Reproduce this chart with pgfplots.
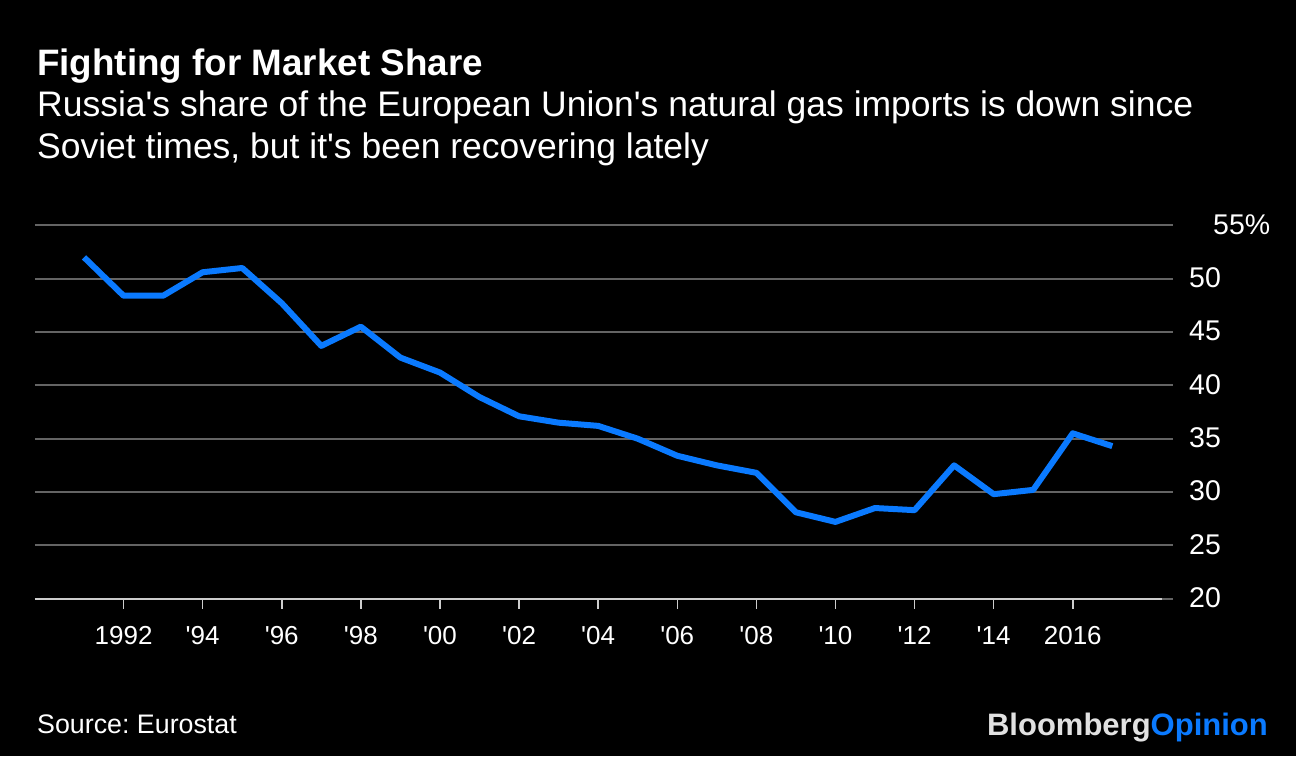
\documentclass[border=0pt]{standalone}
\usepackage{pgfplots}
\pgfplotsset{compat=1.18}
\usepackage{fontspec}
\setmainfont{Liberation Sans}
\frenchspacing
\definecolor{lineblue}{RGB}{10,122,255}
\definecolor{gridgray}{RGB}{100,100,100}
\definecolor{axisgray}{RGB}{205,205,205}
\definecolor{logogray}{RGB}{225,225,225}
\newcommand{\q}{\textquotesingle}
\begin{document}
\begin{tikzpicture}
\fill[black] (0pt,0pt) rectangle (1296pt,-756pt);
\node[anchor=base west,text=white,inner sep=0pt] at (37pt,-75pt) {\fontsize{36.8}{44}\selectfont\bfseries Fighting for Market Share};
\node[anchor=base west,text=white,inner sep=0pt] at (37pt,-116pt) {\fontsize{35.5}{40}\selectfont Russia\q s share of the European Union\q s natural gas imports is down since};
\node[anchor=base west,text=white,inner sep=0pt] at (37pt,-158pt) {\fontsize{35.5}{40}\selectfont Soviet times, but it\q s been recovering lately};
\node[anchor=base west,text=white,inner sep=0pt] at (37pt,-733pt) {\fontsize{26.8}{30}\selectfont Source: Eurostat};
\node[anchor=base east,inner sep=0pt] at (1268pt,-735pt) {\fontsize{31}{34}\selectfont\bfseries\textcolor{logogray}{Bloomberg}\textcolor{lineblue}{Opinion}};
\begin{axis}[
  at={(35pt,-598.7pt)}, anchor=south west,
  scale only axis, width=1138pt, height=373.4pt,
  xmin=1989.761, xmax=2018.535, ymin=20, ymax=55,
  axis line style={draw=none},
  ytick={20,25,30,35,40,45,50,55},
  yticklabels={20,25,30,35,40,45,50,\hspace*{24pt}55\%},
  yticklabel pos=right,
  ymajorgrids, grid style={gridgray, line width=2pt},
  y tick style={draw=none},
  yticklabel style={anchor=west, inner sep=0pt, xshift=16pt, yshift=1pt, text=white, font=\fontsize{28.5}{32}\selectfont},
  xtick={1992,1994,...,2016},
  xtick pos=bottom,
  xticklabels={1992,\q94,\q96,\q98,\q00,\q02,\q04,\q06,\q08,\q10,\q12,\q14,2016},
  xtick align=outside, major tick length=10pt,
  x tick style={axisgray, line width=1.5pt},
  xticklabel style={text=white, yshift=-14pt, font=\fontsize{26}{30}\selectfont},
  clip=false,
]
\draw[axisgray, line width=2pt] (axis cs:1989.761,20) -- (axis cs:2018.26,20);
\addplot[lineblue, line width=6pt, line join=round] coordinates {
(1991,52.0) (1992,48.4) (1993,48.4) (1994,50.6) (1995,51.0) (1996,47.7)
(1997,43.7) (1998,45.5) (1999,42.6) (2000,41.2) (2001,38.9) (2002,37.1)
(2003,36.5) (2004,36.2) (2005,35.0) (2006,33.4) (2007,32.5) (2008,31.8)
(2009,28.1) (2010,27.2) (2011,28.5) (2012,28.3) (2013,32.5) (2014,29.8)
(2015,30.2) (2016,35.5) (2017,34.3)
};
\end{axis}
\end{tikzpicture}
\end{document}
